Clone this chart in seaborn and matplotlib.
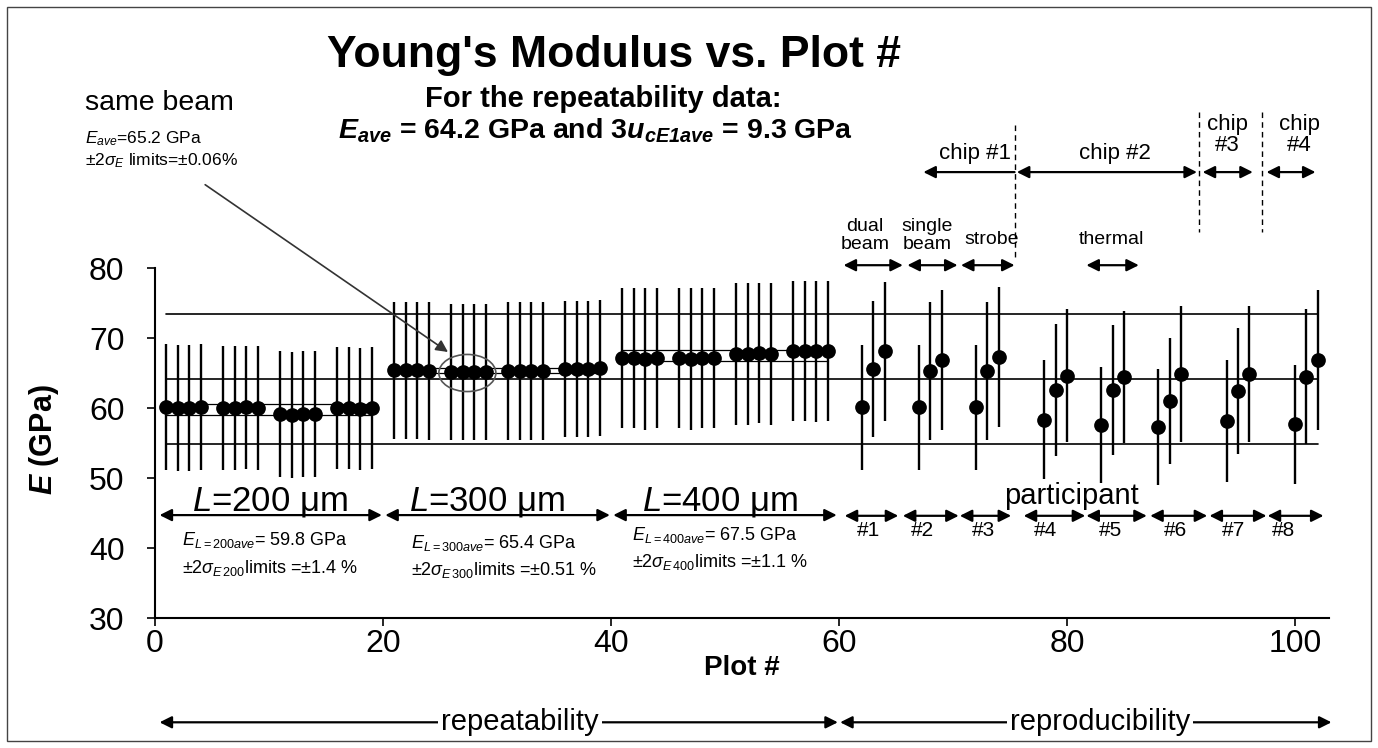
import numpy as np
import pandas as pd
import matplotlib
matplotlib.use("Agg")
import matplotlib.pyplot as plt
import seaborn as sns
from matplotlib.patches import Ellipse, Rectangle

# repeatability data (L = 200, 300, 400 um)
plot200 = [1, 2, 3, 4, 6, 7, 8, 9, 11, 12, 13, 14, 16, 17, 18, 19]
E200 = [60.1, 60.0, 60.0, 60.1, 60.0, 60.0, 60.1, 60.0, 59.1, 59.0, 59.1, 59.1, 60.0, 60.0, 59.9, 60.0]
u200 = [9.0, 9.0, 9.0, 9.0, 8.8, 8.8, 8.8, 8.8, 9.0, 9.0, 9.0, 9.0, 8.7, 8.7, 8.7, 8.7]

plot300 = [21, 22, 23, 24, 26, 27, 28, 29, 31, 32, 33, 34, 36, 37, 38, 39]
E300 = [65.4, 65.4, 65.4, 65.3, 65.2, 65.2, 65.2, 65.2, 65.3, 65.3, 65.3, 65.3, 65.6, 65.6, 65.6, 65.7]
u300 = [9.8, 9.8, 9.8, 9.8, 9.7, 9.7, 9.7, 9.7, 9.8, 9.8, 9.8, 9.8, 9.7, 9.7, 9.7, 9.7]

plot400 = [41, 42, 43, 44, 46, 47, 48, 49, 51, 52, 53, 54, 56, 57, 58, 59]
E400 = [67.1, 67.1, 67.0, 67.1, 67.1, 67.0, 67.1, 67.1, 67.7, 67.7, 67.8, 67.7, 68.2, 68.2, 68.1, 68.2]
u400 = [10.0, 10.0, 10.1, 10.0, 10.0, 10.1, 10.0, 10.0, 10.1, 10.1, 10.0, 10.1, 10.0, 10.0, 10.1, 10.0]

# reproducibility data (participants #1..#8)
plot_rep = [62, 63, 64, 67, 68, 69, 72, 73, 74, 78, 79, 80, 83, 84, 85, 88, 89, 90, 94, 95, 96, 100, 101, 102]
E_rep = [60.1, 65.6, 68.1, 60.1, 65.3, 66.9, 60.1, 65.3, 67.3, 58.3, 62.6, 64.6,
         57.6, 62.6, 64.4, 57.3, 61.0, 64.9, 58.2, 62.5, 64.9, 57.7, 64.5, 66.9]
u_rep = [8.9, 9.7, 9.9, 8.9, 9.8, 10.0, 8.9, 9.8, 10.0, 8.5, 9.4, 9.5,
         8.3, 9.3, 9.4, 8.3, 9.0, 9.7, 8.7, 9.0, 9.7, 8.5, 9.6, 10.0]

E_ave = 64.2
three_u = 9.3
group_means = [59.8, 65.4, 67.5]
group_pct = [1.4, 0.51, 1.1]
group_span = [(1, 19), (21, 39), (41, 59)]

df = pd.DataFrame({
    "plot": plot200 + plot300 + plot400 + plot_rep,
    "E": E200 + E300 + E400 + E_rep,
    "u": u200 + u300 + u400 + u_rep,
})

sns.set_style("ticks")
plt.rcParams["font.family"] = ["Liberation Sans", "DejaVu Sans"]
plt.rcParams["text.color"] = "black"
plt.rcParams["axes.labelcolor"] = "black"
plt.rcParams["xtick.color"] = "black"
plt.rcParams["ytick.color"] = "black"
plt.rcParams["mathtext.fontset"] = "custom"
plt.rcParams["mathtext.rm"] = "Liberation Sans"
plt.rcParams["mathtext.it"] = "Liberation Sans:italic"
plt.rcParams["mathtext.bf"] = "Liberation Sans:bold"
plt.rcParams["mathtext.bfit"] = "Liberation Sans:italic:bold"

fig = plt.figure(figsize=(13.78, 7.48), dpi=100)
ax = fig.add_axes([155 / 1378, 130 / 748, 103 * 11.4 / 1378, 350 / 748])

# reference lines (mean and +/- 3u)
for yv in [E_ave + three_u, E_ave, E_ave - three_u]:
    ax.plot([1, 102], [yv, yv], color="black", lw=1.2, zorder=1)

# +/- 2 sigma limits of each length group
for m, p, (a, b) in zip(group_means, group_pct, group_span):
    for yv in [m * (1 + p / 100), m * (1 - p / 100)]:
        ax.plot([a, b], [yv, yv], color="black", lw=0.9, zorder=1)

ax.errorbar(df["plot"], df["E"], yerr=df["u"], fmt="none", ecolor="black",
            elinewidth=1.7, capsize=0, zorder=2)
sns.scatterplot(data=df, x="plot", y="E", color="black", s=112, linewidth=0,
                zorder=3, ax=ax, legend=False)

ax.set_xlim(0, 103)
ax.set_ylim(30, 80)
ax.set_xticks([0, 20, 40, 60, 80, 100])
ax.set_yticks([30, 40, 50, 60, 70, 80])
ax.tick_params(labelsize=23, direction="out", length=6, width=1.2)
ax.tick_params(axis="x", pad=2)
ax.tick_params(axis="y", pad=16)
sns.despine(ax=ax)
for s in ["left", "bottom"]:
    ax.spines[s].set_linewidth(1.5)
    ax.spines[s].set_color("black")

ax.set_xlabel("Plot #", fontsize=20, fontweight="bold")
ax.xaxis.set_label_coords(0.5, -0.105)
ax.set_ylabel(r"$\mathbfit{E}$ (GPa)", fontsize=22, fontweight="bold")
ax.yaxis.set_label_coords(-0.08, 0.51)

# titles
ax.text(40.3, 110.4, "Young's Modulus vs. Plot #", fontsize=32, fontweight="bold",
        ha="center", va="center")
ax.text(39.3, 104.2, "For the repeatability data:", fontsize=21, fontweight="bold",
        ha="center", va="center")
ax.text(38.6, 99.6, r"$\mathbfit{E}_{\mathbfit{ave}}$ = 64.2 GPa and 3$\mathbfit{u}_{\mathbfit{cE1ave}}$ = 9.3 GPa",
        fontsize=20.5, fontweight="bold", ha="center", va="center")

# same beam note
ax.text(-6.1, 103.6, "same beam", fontsize=20.5, ha="left", va="center")
ax.text(-6.1, 98.5, r"$E_{ave}$=65.2 GPa", fontsize=12.5, ha="left", va="center")
ax.text(-6.1, 95.3, r"±2$\sigma_E$ limits=±0.06%", fontsize=12.5, ha="left", va="center")
ax.annotate("", xy=(25.7, 68.0), xytext=(4.4, 91.9), annotation_clip=False,
            arrowprops=dict(arrowstyle="-|>", color="#333333", lw=1.2,
                            mutation_scale=18, shrinkA=0, shrinkB=0))
ax.add_patch(Ellipse((27.4, 65.0), width=5.0, height=5.3, fill=False,
                     ec="#555555", lw=1.2, zorder=4))


def harrow(x1, x2, y, style="<|-|>", lw=1.6, ms=18):
    ax.annotate("", xy=(x2, y), xytext=(x1, y), annotation_clip=False,
                arrowprops=dict(arrowstyle=style, color="black", lw=lw,
                                mutation_scale=ms, shrinkA=0, shrinkB=0))


# chips
harrow(75.4, 67.4, 93.7, style="-|>")
harrow(75.6, 91.4, 93.7)
harrow(91.9, 96.3, 93.7)
harrow(97.5, 101.8, 93.7)
ax.text(71.9, 96.4, "chip #1", fontsize=16, ha="center", va="center")
ax.text(84.2, 96.4, "chip #2", fontsize=16, ha="center", va="center")
ax.text(94.1, 99.0, "chip\n#3", fontsize=16, ha="center", va="center", linespacing=0.95)
ax.text(100.4, 99.0, "chip\n#4", fontsize=16, ha="center", va="center", linespacing=0.95)
for xd, y1, y2 in [(75.4, 100.4, 81.4), (91.6, 102.3, 85.1), (97.1, 102.3, 85.1)]:
    ax.plot([xd, xd], [y1, y2], color="black", lw=1.0, ls=(0, (4, 3)), clip_on=False)

# techniques
for x1, x2 in [(60.4, 65.6), (66.0, 70.4), (70.7, 75.4), (81.7, 86.3)]:
    harrow(x1, x2, 80.4)
ax.text(62.3, 84.6, "dual\nbeam", fontsize=14, ha="center", va="center", linespacing=1.05)
ax.text(67.7, 84.6, "single\nbeam", fontsize=14, ha="center", va="center", linespacing=1.05)
ax.text(73.4, 84.0, "strobe", fontsize=14, ha="center", va="center")
ax.text(83.9, 84.0, "thermal", fontsize=14, ha="center", va="center")

# lengths
for (x1, x2), m, p, lab, xc, xl, yl in zip(
        [(0.4, 19.9), (20.2, 39.9), (40.2, 59.8)], group_means, group_pct,
        ["200", "300", "400"], [10.1, 29.1, 49.6], [2.4, 22.5, 41.8],
        [41.1, 40.7, 41.9]):
    harrow(x1, x2, 44.7)
    ax.text(xc, 45.3, r"$L$=%s μm" % lab, fontsize=25, ha="center", va="baseline")
    ax.text(xl, yl, r"$E_{L=%save}$= %.1f GPa" % (lab, m), fontsize=13, ha="left", va="center")
    ax.text(xl, yl - 3.9, r"±2$\sigma_{E\,\mathrm{%s}}$limits =±%s %%" % (lab, p),
            fontsize=13, ha="left", va="center")

# participants
part_arrows = [(60.5, 65.2), (65.6, 70.5), (70.6, 75.1), (76.2, 81.6),
               (81.7, 87.0), (87.3, 92.3), (92.5, 97.5), (97.6, 102.5)]
part_x = [62.6, 67.3, 72.7, 78.1, 83.8, 89.5, 94.6, 99.0]
for i, ((x1, x2), xc) in enumerate(zip(part_arrows, part_x)):
    harrow(x1, x2, 44.6)
    ax.text(xc, 42.5, "#%d" % (i + 1), fontsize=15, ha="center", va="center")
ax.text(80.4, 47.4, "participant", fontsize=21, ha="center", va="center")

# repeatability / reproducibility
harrow(0.4, 59.9, 15.1)
harrow(60.1, 103.2, 15.1)
ax.text(32.0, 15.1, "repeatability", fontsize=21, ha="center", va="center",
        bbox=dict(fc="white", ec="none", pad=2))
ax.text(82.9, 15.1, "reproducibility", fontsize=21, ha="center", va="center",
        bbox=dict(fc="white", ec="none", pad=2))

fig.add_artist(Rectangle((7 / 1378, 7 / 748), 1364 / 1378, 734 / 748,
                         transform=fig.transFigure, fill=False, ec="#444444", lw=1.0))

fig.savefig("out.png", dpi=100)
